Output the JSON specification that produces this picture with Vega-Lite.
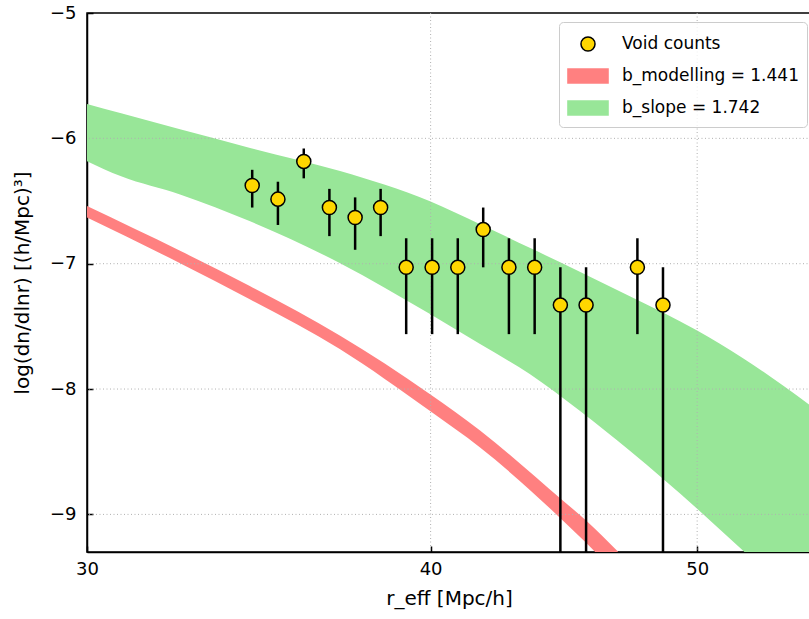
{
  "$schema": "https://vega.github.io/schema/vega-lite/v6.json",
  "width": 724,
  "height": 539,
  "autosize": {"type": "none"},
  "padding": {"left": 87, "top": 13, "right": 0, "bottom": 67},
  "config": {
    "font": "DejaVu Sans",
    "view": {"stroke": "black", "strokeWidth": 1.5},
    "axis": {
      "grid": false,
      "domainColor": "black",
      "domainWidth": 1.5,
      "tickColor": "black",
      "tickWidth": 1.5,
      "tickSize": -6,
      "labelFont": "DejaVu Sans",
      "labelFontSize": 18,
      "labelColor": "black",
      "labelFlush": false,
      "titleFont": "DejaVu Sans",
      "titleFontSize": 20,
      "titleFontWeight": "normal",
      "titleColor": "black"
    }
  },
  "datasets": {
    "slope_band": [
      {"r": 30.0, "upper": -5.725, "lower": -6.182},
      {"r": 30.87, "upper": -5.799, "lower": -6.303},
      {"r": 32.43, "upper": -5.928, "lower": -6.447},
      {"r": 34.39, "upper": -6.076, "lower": -6.662},
      {"r": 37.08, "upper": -6.261, "lower": -6.996},
      {"r": 39.98, "upper": -6.502, "lower": -7.402},
      {"r": 41.69, "upper": -6.685, "lower": -7.641},
      {"r": 43.46, "upper": -6.873, "lower": -7.88},
      {"r": 45.32, "upper": -7.064, "lower": -8.174},
      {"r": 47.26, "upper": -7.259, "lower": -8.493},
      {"r": 50.0, "upper": -7.533, "lower": -8.955},
      {"r": 51.94, "upper": -7.752, "lower": -9.287},
      {"r": 55.0, "upper": -8.134, "lower": -9.799}
    ],
    "modelling_band": [
      {"r": 30.0, "upper": -6.54, "lower": -6.632},
      {"r": 32.43, "upper": -6.897, "lower": -6.996},
      {"r": 34.38, "upper": -7.178, "lower": -7.283},
      {"r": 37.07, "upper": -7.573, "lower": -7.68},
      {"r": 39.97, "upper": -8.039, "lower": -8.174},
      {"r": 41.69, "upper": -8.331, "lower": -8.467},
      {"r": 44.68, "upper": -8.889, "lower": -9.048},
      {"r": 45.59, "upper": -9.054, "lower": -9.233},
      {"r": 46.75, "upper": -9.289, "lower": -9.48},
      {"r": 47.5, "upper": -9.448, "lower": -9.647}
    ],
    "voids": [
      {"series": "Void counts", "r": 34.45, "logn": -6.376, "lo": -6.552, "hi": -6.251},
      {"series": "Void counts", "r": 35.2, "logn": -6.485, "lo": -6.691, "hi": -6.346},
      {"series": "Void counts", "r": 35.97, "logn": -6.184, "lo": -6.319, "hi": -6.081},
      {"series": "Void counts", "r": 36.75, "logn": -6.552, "lo": -6.78, "hi": -6.403},
      {"series": "Void counts", "r": 37.55, "logn": -6.631, "lo": -6.889, "hi": -6.471},
      {"series": "Void counts", "r": 38.36, "logn": -6.552, "lo": -6.78, "hi": -6.403},
      {"series": "Void counts", "r": 39.19, "logn": -7.029, "lo": -7.562, "hi": -6.797},
      {"series": "Void counts", "r": 40.05, "logn": -7.029, "lo": -7.562, "hi": -6.797},
      {"series": "Void counts", "r": 40.92, "logn": -7.029, "lo": -7.562, "hi": -6.797},
      {"series": "Void counts", "r": 41.8, "logn": -6.728, "lo": -7.029, "hi": -6.552},
      {"series": "Void counts", "r": 42.71, "logn": -7.029, "lo": -7.562, "hi": -6.797},
      {"series": "Void counts", "r": 43.64, "logn": -7.029, "lo": -7.562, "hi": -6.797},
      {"series": "Void counts", "r": 44.59, "logn": -7.33, "lo": -9.3, "hi": -7.029},
      {"series": "Void counts", "r": 45.56, "logn": -7.33, "lo": -9.3, "hi": -7.029},
      {"series": "Void counts", "r": 47.56, "logn": -7.029, "lo": -7.562, "hi": -6.797},
      {"series": "Void counts", "r": 48.59, "logn": -7.33, "lo": -9.3, "hi": -7.029}
    ],
    "grid_x": [{"r": 40}, {"r": 50}],
    "grid_y": [{"v": -9}, {"v": -8}, {"v": -7}, {"v": -6}]
  },
  "layer": [
    {
      "data": {"name": "slope_band"},
      "mark": {"type": "area", "interpolate": "monotone", "clip": true, "opacity": 1},
      "encoding": {
        "x": {
          "field": "r", "type": "quantitative",
          "scale": {"type": "log", "domain": [30, 55], "nice": false},
          "axis": {"values": [30, 40, 50], "format": "d", "title": "r_eff [Mpc/h]", "labelPadding": 14, "titlePadding": 10}
        },
        "y": {
          "field": "upper", "type": "quantitative",
          "scale": {"domain": [-9.3, -5], "nice": false, "zero": false},
          "axis": {"values": [-9, -8, -7, -6, -5], "format": "d", "title": "log(dn/dlnr) [(h/Mpc)³]", "labelPadding": 17, "titlePadding": 17}
        },
        "y2": {"field": "lower"},
        "color": {"datum": "b_slope = 1.742", "type": "nominal"}
      }
    },
    {
      "data": {"name": "modelling_band"},
      "mark": {"type": "area", "interpolate": "monotone", "clip": true, "opacity": 1},
      "encoding": {
        "x": {"field": "r", "type": "quantitative"},
        "y": {"field": "upper", "type": "quantitative"},
        "y2": {"field": "lower"},
        "color": {"datum": "b_modelling = 1.441", "type": "nominal"}
      }
    },
    {
      "data": {"name": "grid_x"},
      "mark": {"type": "rule", "color": "#b0b0b0", "strokeWidth": 1, "strokeDash": [1, 2.5]},
      "encoding": {
        "x": {"field": "r", "type": "quantitative"}
      }
    },
    {
      "data": {"name": "grid_y"},
      "mark": {"type": "rule", "color": "#b0b0b0", "strokeWidth": 1, "strokeDash": [1, 2.5]},
      "encoding": {
        "y": {"field": "v", "type": "quantitative"}
      }
    },
    {
      "data": {"name": "voids"},
      "mark": {"type": "rule", "color": "black", "strokeWidth": 2.5, "clip": true},
      "encoding": {
        "x": {"field": "r", "type": "quantitative"},
        "y": {"field": "lo", "type": "quantitative"},
        "y2": {"field": "hi"}
      }
    },
    {
      "data": {"name": "voids"},
      "mark": {"type": "point", "filled": true, "size": 676, "opacity": 1, "strokeWidth": 1.5},
      "encoding": {
        "x": {"field": "r", "type": "quantitative"},
        "y": {"field": "logn", "type": "quantitative"},
        "color": {
          "field": "series", "type": "nominal",
          "scale": {
            "domain": ["Void counts", "b_modelling = 1.441", "b_slope = 1.742"],
            "range": ["#ffd700", "#ff8080", "#98e698"]
          },
          "legend": {
            "title": null, "orient": "none", "legendX": 472, "legendY": 9,
            "padding": 8, "cornerRadius": 4, "strokeColor": "#cccccc", "fillColor": "rgba(255,255,255,0.8)",
            "labelFont": "DejaVu Sans", "labelFontSize": 17, "labelColor": "black", "labelLimit": 400,
            "symbolSize": 676, "symbolOffset": 7, "labelOffset": 20, "rowPadding": 7
          }
        },
        "shape": {
          "field": "series", "type": "nominal",
          "scale": {
            "domain": ["Void counts", "b_modelling = 1.441", "b_slope = 1.742"],
            "range": [
              "M-0.54,0A0.54,0.54,0,1,0,0.54,0A0.54,0.54,0,1,0,-0.54,0Z",
              "M-1.6,-0.6H1.6V0.6H-1.6Z",
              "M-1.6,-0.6H1.6V0.6H-1.6Z"
            ]
          },
          "legend": {
            "title": null, "orient": "none", "legendX": 472, "legendY": 9,
            "padding": 8, "cornerRadius": 4, "strokeColor": "#cccccc", "fillColor": "rgba(255,255,255,0.8)",
            "labelFont": "DejaVu Sans", "labelFontSize": 17, "labelColor": "black", "labelLimit": 400,
            "symbolSize": 676, "symbolOffset": 7, "labelOffset": 20, "rowPadding": 7
          }
        },
        "stroke": {
          "field": "series", "type": "nominal",
          "scale": {
            "domain": ["Void counts", "b_modelling = 1.441", "b_slope = 1.742"],
            "range": ["black", "transparent", "transparent"]
          },
          "legend": {
            "title": null, "orient": "none", "legendX": 472, "legendY": 9,
            "padding": 8, "cornerRadius": 4, "strokeColor": "#cccccc", "fillColor": "rgba(255,255,255,0.8)",
            "labelFont": "DejaVu Sans", "labelFontSize": 17, "labelColor": "black", "labelLimit": 400,
            "symbolSize": 676, "symbolOffset": 7, "labelOffset": 20, "rowPadding": 7
          }
        }
      }
    }
  ]
}
